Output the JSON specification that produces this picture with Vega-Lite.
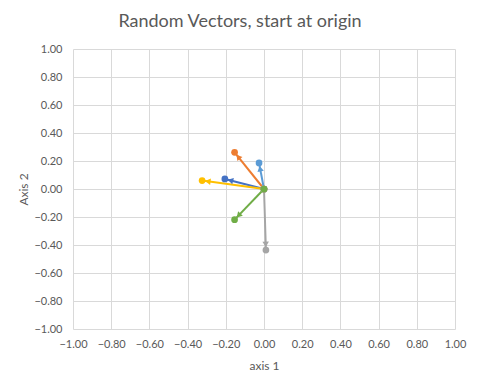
{
  "$schema": "https://vega.github.io/schema/vega-lite/v6.json",
  "width": 382,
  "height": 280,
  "autosize": {"type": "none"},
  "padding": {"left": 73, "top": 49, "right": 26, "bottom": 60},
  "background": "white",
  "title": {
    "text": "Random Vectors, start at origin",
    "anchor": "middle",
    "dx": -24,
    "offset": 12,
    "font": "Lato",
    "fontSize": 18,
    "fontWeight": "normal",
    "color": "#595959"
  },
  "data": {
    "values": [
      {"series": "S1", "x": 0, "y": 0, "end": false},
      {"series": "S1", "x": -0.205, "y": 0.072, "end": true},
      {"series": "S2", "x": 0, "y": 0, "end": false},
      {"series": "S2", "x": -0.154, "y": 0.262, "end": true},
      {"series": "S3", "x": 0, "y": 0, "end": false},
      {"series": "S3", "x": 0.01, "y": -0.436, "end": true},
      {"series": "S4", "x": 0, "y": 0, "end": false},
      {"series": "S4", "x": -0.324, "y": 0.06, "end": true},
      {"series": "S5", "x": 0, "y": 0, "end": false},
      {"series": "S5", "x": -0.026, "y": 0.186, "end": true},
      {"series": "S6", "x": 0, "y": 0, "end": false},
      {"series": "S6", "x": -0.154, "y": -0.219, "end": true}
    ]
  },
  "encoding": {
    "x": {
      "field": "x", "type": "quantitative",
      "scale": {"domain": [-1, 1], "nice": false, "zero": false},
      "axis": {"values": [-1, -0.8, -0.6, -0.4, -0.2, 0, 0.2, 0.4, 0.6, 0.8, 1], "format": ".2f", "title": "axis 1", "labelPadding": 9, "titlePadding": 11, "labelOverlap": false, "labelBound": false, "labelFlush": false}
    },
    "y": {
      "field": "y", "type": "quantitative",
      "scale": {"domain": [-1, 1], "nice": false, "zero": false},
      "axis": {"values": [-1, -0.8, -0.6, -0.4, -0.2, 0, 0.2, 0.4, 0.6, 0.8, 1], "format": ".2f", "title": "Axis 2", "labelPadding": 11, "titlePadding": 3, "labelOverlap": false, "labelBound": false, "labelFlush": false}
    },
    "color": {
      "field": "series", "type": "nominal",
      "scale": {"domain": ["S1", "S2", "S3", "S4", "S5", "S6"], "range": ["#4472C4", "#ED7D31", "#A5A5A5", "#FFC000", "#5B9BD5", "#70AD47"]},
      "legend": null
    }
  },
  "layer": [
    {
      "mark": {"type": "line", "strokeWidth": 2},
      "encoding": {"detail": {"field": "series"}}
    },
    {
      "transform": [
        {"filter": "datum.end"},
        {"calculate": "atan2(datum.x * 191, datum.y * 140) * 180 / PI", "as": "ang"}
      ],
      "mark": {"type": "point", "filled": true, "opacity": 1, "size": 100, "shape": "M0,0.6L-0.65,1.7L0.65,1.7Z"},
      "encoding": {"angle": {"field": "ang", "type": "quantitative", "scale": null}}
    },
    {
      "mark": {"type": "point", "filled": true, "opacity": 1, "size": 45, "shape": "circle"}
    }
  ],
  "config": {
    "view": {"stroke": null},
    "axis": {
      "grid": true,
      "gridColor": "#d9d9d9",
      "gridWidth": 1,
      "domain": false,
      "ticks": false,
      "labelFont": "Lato",
      "labelFontSize": 11,
      "labelColor": "#595959",
      "titleFont": "Lato",
      "titleFontSize": 12,
      "titleFontWeight": "normal",
      "titleColor": "#595959"
    }
  }
}
